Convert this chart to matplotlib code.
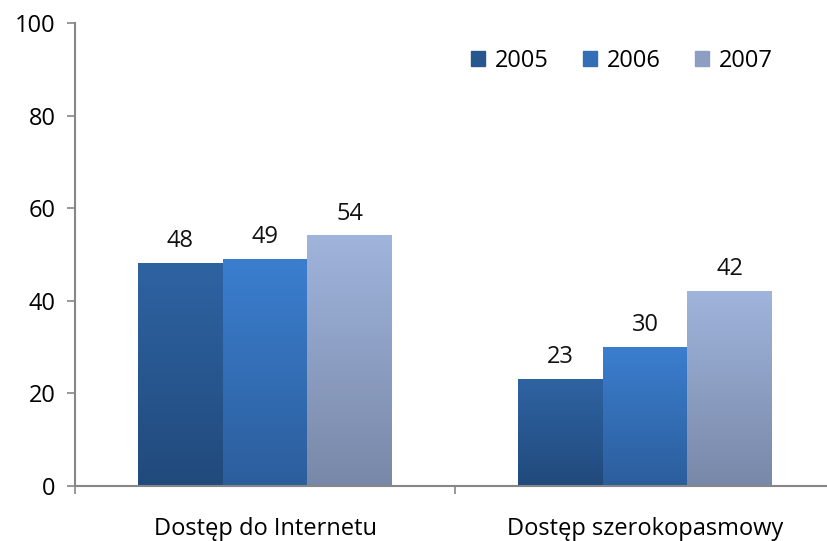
import matplotlib.pyplot as plt
import matplotlib.patches as mpatches
from matplotlib.colors import LinearSegmentedColormap
import numpy as np

categories = ['Dostęp do Internetu', 'Dostęp szerokopasmowy']
years = ['2005', '2006', '2007']
v2005 = [48, 23]
v2006 = [49, 30]
v2007 = [54, 42]

# top color, bottom color for each series
grad = [('#2e63a2', '#214a7c'), ('#3b7ecf', '#2c5e9c'), ('#a0b4dc', '#7888a8')]

plt.rcParams['font.family'] = ['Open Sans', 'DejaVu Sans']
fs = 17

fig = plt.figure(figsize=(8.27, 5.41), dpi=100)
ax = fig.add_axes([75/827, 55/541, 760/827, 463/541])

x = np.arange(len(categories))
w = 0.223
series = [v2005, v2006, v2007]
handles = []
for i, vals in enumerate(series):
    bars = ax.bar(x + (i - 1)*w, vals, w, color='none', edgecolor='none')
    cmap = LinearSegmentedColormap.from_list('g%d' % i, [grad[i][1], grad[i][0]])
    for b, v in zip(bars, vals):
        x0 = b.get_x()
        ax.imshow(np.linspace(0, 1, 256).reshape(-1, 1), cmap=cmap, origin='lower',
                  extent=[x0, x0 + w, 0, v], aspect='auto', zorder=2)
        ax.annotate(str(v), (x0 + w/2, v), xytext=(0, 7.5), textcoords='offset points',
                    ha='center', va='bottom', fontsize=fs, color='#111111')
    handles.append(mpatches.Patch(color=cmap(0.5), label=years[i]))

ax.set_xlim(-0.5, 1.5)
ax.set_ylim(0, 100)
ax.set_yticks(range(0, 101, 20))
ax.set_xticks([-0.5, 0.5, 1.5])
ax.set_xticklabels([])
ax.set_xticks(x, minor=True)
ax.set_xticklabels(categories, minor=True)
ax.tick_params(axis='x', which='minor', length=0, pad=22, labelsize=fs)
ax.tick_params(axis='x', which='major', length=6, width=1.2, color='#868686')
ax.tick_params(axis='y', length=6, width=1.2, color='#868686', labelsize=fs, pad=8)

for s in ['top', 'right']:
    ax.spines[s].set_visible(False)
for s in ['left', 'bottom']:
    ax.spines[s].set_color('#868686')
    ax.spines[s].set_linewidth(1.5)

ax.legend(handles=handles, loc='upper left', bbox_to_anchor=(0.493, 0.99), ncol=3,
          frameon=False, fontsize=fs, handlelength=0.6, handleheight=0.6,
          columnspacing=1.47, handletextpad=0.4)

fig.savefig('out.png', dpi=100)
